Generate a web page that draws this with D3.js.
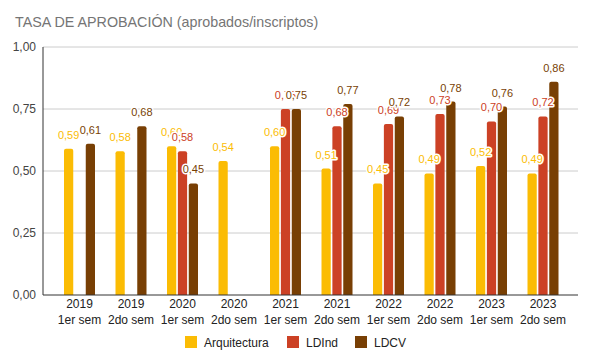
<!DOCTYPE html>
<html>
<head>
<meta charset="utf-8">
<script src="https://cdn.jsdelivr.net/npm/d3@7"></script>
<style>
  body { margin: 0; background: #fff; }
  text { font-family: Arial, "Liberation Sans", sans-serif; }
</style>
</head>
<body>
<div id="chart"></div>
<script>
const years = ['2019', '2019', '2020', '2020', '2021', '2021', '2022', '2022', '2023', '2023'];
const semesters = ['1er sem', '2do sem', '1er sem', '2do sem', '1er sem', '2do sem', '1er sem', '2do sem', '1er sem', '2do sem'];
const seriesNames = ['Arquitectura', 'LDInd', 'LDCV'];
const arquitectura = [0.59, 0.58, 0.60, 0.54, 0.60, 0.51, 0.45, 0.49, 0.52, 0.49];
const ldind = [null, null, 0.58, null, 0.75, 0.68, 0.69, 0.73, 0.70, 0.72];
const ldcv = [0.61, 0.68, 0.45, null, 0.75, 0.77, 0.72, 0.78, 0.76, 0.86];
const yTicks = [0, 0.25, 0.5, 0.75, 1];
const colors = ['#fbbc04', '#cc4125', '#783f04'];

const width = 592, height = 363;
const plotLeft = 43, plotRight = 578, plotTop = 47, plotBottom = 295;

const svg = d3.select('#chart').append('svg')
  .attr('width', width)
  .attr('height', height);

// title
svg.append('text')
  .attr('x', 15).attr('y', 27)
  .attr('font-size', 14.3)
  .attr('fill', '#757575')
  .text('TASA DE APROBACIÓN (aprobados/inscriptos)');

const idx = d3.range(years.length);
const x0 = d3.scaleBand().domain(idx).range([53.75, 568.75]);
const x1 = d3.scaleBand().domain(seriesNames).range([-15.5, 15.5]).paddingInner(0.15);
const y = d3.scaleLinear().domain([0, 1]).range([plotBottom, plotTop]);

const fmt = v => d3.format('.2f')(v).replace('.', ',');

// gridlines + y labels
svg.append('g').selectAll('line')
  .data(yTicks.filter(t => t > 0))
  .join('line')
  .attr('x1', plotLeft).attr('x2', plotRight)
  .attr('y1', d => y(d)).attr('y2', d => y(d))
  .attr('stroke', '#cccccc');

svg.append('g').selectAll('text')
  .data(yTicks)
  .join('text')
  .attr('x', 36).attr('y', d => y(d) + 4)
  .attr('text-anchor', 'end')
  .attr('font-size', 12)
  .attr('fill', '#444')
  .text(fmt);

// bars
const series = [arquitectura, ldind, ldcv];
const bars = [];
series.forEach((vals, s) => {
  vals.forEach((v, i) => {
    if (v != null) bars.push({ s, i, v });
  });
});

const bw = x1.bandwidth();
svg.append('g').selectAll('path')
  .data(bars)
  .join('path')
  .attr('d', d => {
    const xl = x0(d.i) + x0.bandwidth() / 2 + x1(seriesNames[d.s]);
    const yt = y(d.v), r = 2;
    return `M${xl},${plotBottom}V${yt + r}Q${xl},${yt} ${xl + r},${yt}H${xl + bw - r}Q${xl + bw},${yt} ${xl + bw},${yt + r}V${plotBottom}Z`;
  })
  .attr('fill', d => colors[d.s]);

// axis lines
svg.append('line')
  .attr('x1', plotLeft).attr('x2', plotLeft).attr('y1', plotTop).attr('y2', plotBottom)
  .attr('stroke', '#333');
svg.append('line')
  .attr('x1', plotLeft).attr('x2', plotRight).attr('y1', plotBottom).attr('y2', plotBottom)
  .attr('stroke', '#333');

// value labels (overlaps are in the original too)
svg.append('g').selectAll('text')
  .data(bars)
  .join('text')
  .attr('x', d => x0(d.i) + x0.bandwidth() / 2 + x1(seriesNames[d.s]) + bw / 2)
  .attr('y', d => y(d.v) - 10)
  .attr('text-anchor', 'middle')
  .attr('font-size', 11)
  .attr('fill', d => colors[d.s])
  .attr('stroke', '#fff')
  .attr('stroke-width', 3)
  .attr('paint-order', 'stroke')
  .attr('stroke-linejoin', 'round')
  .text(d => fmt(d.v));

// x labels
const xl = svg.append('g').selectAll('text')
  .data(idx)
  .join('text')
  .attr('x', i => x0(i) + x0.bandwidth() / 2)
  .attr('text-anchor', 'middle')
  .attr('font-size', 12)
  .attr('fill', '#222');
xl.append('tspan').attr('y', 308).text(i => years[i]);
xl.append('tspan').attr('y', 324).attr('x', i => x0(i) + x0.bandwidth() / 2).text(i => semesters[i]);

// legend
const legendX = [185, 287, 355];
const lg = svg.append('g').selectAll('g')
  .data(seriesNames)
  .join('g')
  .attr('transform', (d, i) => `translate(${legendX[i]},336)`);
lg.append('rect')
  .attr('width', 12).attr('height', 12)
  .attr('fill', (d, i) => colors[i]);
lg.append('text')
  .attr('x', 19).attr('y', 10.5)
  .attr('font-size', 12)
  .attr('fill', '#222')
  .text(d => d);
</script>
</body>
</html>
